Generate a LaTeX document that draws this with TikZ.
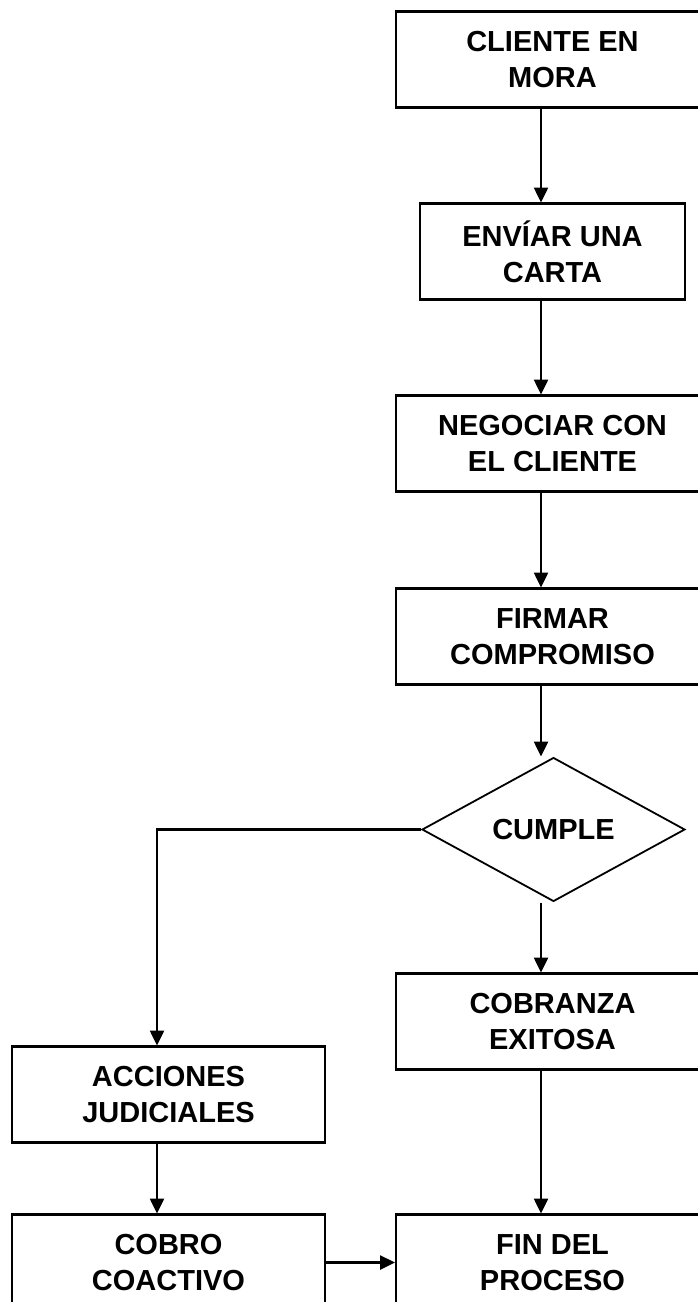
\documentclass[tikz,border=0pt]{standalone}
\usepackage{fontspec}
\setmainfont{Liberation Sans}
\usetikzlibrary{shapes.geometric,arrows.meta,positioning}

\begin{document}
\begin{tikzpicture}[
    x=1pt, y=1pt,
    node distance=94pt and 69pt,
    every node/.style={font=\bfseries\fontsize{29}{36}\selectfont},
    stepbox/.style={rectangle, draw=black, line width=2.5pt, minimum width=313pt,
                    minimum height=96pt, align=center, inner sep=0pt, outer sep=1pt},
    decision/.style={diamond, draw=black, line width=1.8pt, minimum width=263pt,
                     minimum height=144pt, inner sep=0pt, outer sep=1pt},
    myarrow/.style={-{Triangle[length=15pt,width=14pt]}, line width=2.5pt, black},
]
\useasboundingbox (0,0) rectangle (698,-1302);
\clip (0,0) rectangle (698,-1302);

% --- Columns for the connectors ---
\coordinate (col) at (541,0);
\coordinate (lcol) at (157,0);

% --- Main column ---
\node[stepbox] (cliente) at (552.5,-59.5) {CLIENTE EN\\MORA};
\node[stepbox, minimum width=265pt, below=94pt of cliente] (carta) {ENVÍAR UNA\\CARTA};
\node[stepbox, below=94pt of carta] (negociar) {NEGOCIAR CON\\EL CLIENTE};
\node[stepbox, below=95pt of negociar] (firmar) {FIRMAR\\COMPROMISO};

% --- Decision ---
\node[decision, below=71pt of firmar, xshift=1pt] (cumple) {CUMPLE};
\node[stepbox, below=70pt of cumple, xshift=-1pt] (cobranza) {COBRANZA\\EXITOSA};
\node[stepbox, below=143pt of cobranza] (fin) {FIN DEL\\PROCESO};

% --- Left branch ---
\node[stepbox, left=69pt of fin] (cobro) {COBRO\\COACTIVO};
\node[stepbox, above=70pt of cobro] (acciones) {ACCIONES\\JUDICIALES};

% --- Arrows ---
\draw[myarrow] (cliente.south -| col) -- (carta.north -| col);
\draw[myarrow] (carta.south -| col) -- (negociar.north -| col);
\draw[myarrow] (negociar.south -| col) -- (firmar.north -| col);
\draw[myarrow] (firmar.south -| col) -- (cumple.north -| col);
\draw[myarrow] (cumple.south -| col) -- (cobranza.north -| col);
\draw[myarrow] (cobranza.south -| col) -- (fin.north -| col);
\draw[myarrow] (cumple.west) -| (acciones.north -| lcol);
\draw[myarrow] (acciones.south -| lcol) -- (cobro.north -| lcol);
\draw[myarrow] (cobro.east) -- (fin.west);

\end{tikzpicture}
\end{document}
